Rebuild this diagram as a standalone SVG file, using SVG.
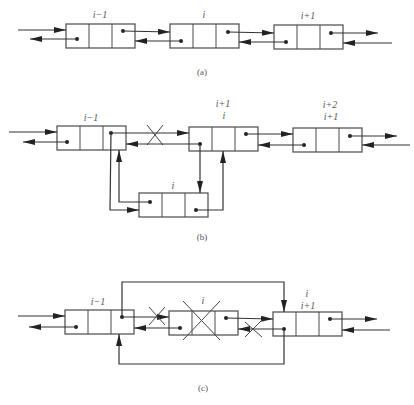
<svg xmlns="http://www.w3.org/2000/svg" width="414" height="405" viewBox="0 0 414 405">
<style>
.box{fill:none;stroke:#4a4a4a;stroke-width:1.2}
.cell{stroke:#4a4a4a;stroke-width:1}
.ln{fill:none;stroke:#333;stroke-width:1.2}
.arr{fill:none;stroke:#333;stroke-width:1.2;marker-end:url(#ah)}
.x{stroke:#444;stroke-width:1}
.dot{fill:#222}
.lbl{font-family:"Liberation Serif",serif;font-style:italic;font-size:10px;fill:#555;text-anchor:middle}
.cap{font-family:"Liberation Serif",serif;font-size:9px;fill:#555;text-anchor:middle}
</style>
<defs>
<marker id="ah" viewBox="0 0 12 6" refX="12" refY="3" markerWidth="12" markerHeight="6" markerUnits="userSpaceOnUse" orient="auto">
<path d="M0,0 L12,3 L0,6 z" fill="#222"/>
</marker>
</defs>
<rect width="414" height="405" fill="#fff"/>

<!-- (a) -->
<g id="a1"><rect class="box" x="66" y="24" width="69" height="24"/><line class="cell" x1="89" y1="24" x2="89" y2="48"/><line class="cell" x1="112" y1="24" x2="112" y2="48"/><circle class="dot" cx="77" cy="39" r="2"/><circle class="dot" cx="123" cy="31" r="2"/><text class="lbl" x="100" y="18">i−1</text></g>
<g id="a2"><rect class="box" x="170" y="24" width="69" height="24"/><line class="cell" x1="193" y1="24" x2="193" y2="48"/><line class="cell" x1="216" y1="24" x2="216" y2="48"/><circle class="dot" cx="181" cy="41" r="2"/><circle class="dot" cx="228" cy="32" r="2"/><text class="lbl" x="204" y="18">i</text></g>
<g id="a3"><rect class="box" x="274" y="25" width="69" height="24"/><line class="cell" x1="297" y1="25" x2="297" y2="49"/><line class="cell" x1="320" y1="25" x2="320" y2="49"/><circle class="dot" cx="286" cy="42" r="2"/><circle class="dot" cx="331" cy="33" r="2"/><text class="lbl" x="308" y="19">i+1</text></g>
<text class="cap" x="202" y="75">(a)</text>

<!-- (b) -->
<g id="b1"><rect class="box" x="57" y="126" width="69" height="24"/><line class="cell" x1="80" y1="126" x2="80" y2="150"/><line class="cell" x1="103" y1="126" x2="103" y2="150"/><circle class="dot" cx="67" cy="142" r="2"/><circle class="dot" cx="111" cy="133" r="2"/><text class="lbl" x="91" y="121">i−1</text></g>
<g id="b2"><rect class="box" x="189" y="127" width="69" height="24"/><line class="cell" x1="212" y1="127" x2="212" y2="151"/><line class="cell" x1="235" y1="127" x2="235" y2="151"/><circle class="dot" cx="200" cy="144" r="2"/><circle class="dot" cx="246" cy="134" r="2"/><text class="lbl" x="223" y="107">i+1</text><text class="lbl" x="224" y="119">i</text></g>
<g id="b3"><rect class="box" x="293" y="128" width="69" height="24"/><line class="cell" x1="316" y1="128" x2="316" y2="152"/><line class="cell" x1="339" y1="128" x2="339" y2="152"/><circle class="dot" cx="304" cy="145" r="2"/><circle class="dot" cx="350" cy="136" r="2"/><text class="lbl" x="330" y="108">i+2</text><text class="lbl" x="331" y="120">i+1</text></g>
<g id="b4"><rect class="box" x="139" y="193" width="69" height="24"/><line class="cell" x1="162" y1="193" x2="162" y2="217"/><line class="cell" x1="185" y1="193" x2="185" y2="217"/><circle class="dot" cx="150" cy="202" r="2"/><circle class="dot" cx="196" cy="210" r="2"/><text class="lbl" x="173" y="189">i</text></g>
<text class="cap" x="202" y="240">(b)</text>

<!-- (c) -->
<g id="c1"><rect class="box" x="65" y="310" width="69" height="24"/><line class="cell" x1="88" y1="310" x2="88" y2="334"/><line class="cell" x1="111" y1="310" x2="111" y2="334"/><circle class="dot" cx="76" cy="327" r="2"/><circle class="dot" cx="122" cy="317" r="2"/><text class="lbl" x="98" y="305">i−1</text></g>
<g id="c2"><rect class="box" x="169" y="311" width="69" height="24"/><line class="cell" x1="192" y1="311" x2="192" y2="335"/><line class="cell" x1="215" y1="311" x2="215" y2="335"/><circle class="dot" cx="180" cy="328" r="2"/><circle class="dot" cx="226" cy="318" r="2"/><text class="lbl" x="203" y="304">i</text><line class="x" x1="183" y1="301" x2="220" y2="340"/><line class="x" x1="220" y1="301" x2="183" y2="340"/></g>
<g id="c3"><rect class="box" x="273" y="312" width="69" height="24"/><line class="cell" x1="296" y1="312" x2="296" y2="336"/><line class="cell" x1="319" y1="312" x2="319" y2="336"/><circle class="dot" cx="284" cy="329" r="2"/><circle class="dot" cx="330" cy="319" r="2"/><text class="lbl" x="307" y="297">i</text><text class="lbl" x="308" y="309">i+1</text></g>
<text class="cap" x="203" y="391">(c)</text>

<g id="connectors">
<!-- a -->
<line class="arr" x1="18" y1="30" x2="66" y2="30"/>
<line class="arr" x1="77" y1="39" x2="30" y2="39"/>
<line class="arr" x1="123" y1="31" x2="170" y2="32"/>
<line class="arr" x1="181" y1="41" x2="135" y2="41"/>
<line class="arr" x1="228" y1="32" x2="274" y2="33"/>
<line class="arr" x1="286" y1="42" x2="239" y2="42"/>
<line class="arr" x1="331" y1="33" x2="378" y2="33"/>
<line class="arr" x1="392" y1="43" x2="343" y2="43"/>
<!-- b -->
<line class="arr" x1="9" y1="132" x2="57" y2="132"/>
<line class="arr" x1="67" y1="142" x2="23" y2="142"/>
<line class="arr" x1="111" y1="133" x2="189" y2="133"/>
<line class="x" x1="147" y1="125" x2="163" y2="145"/>
<line class="x" x1="163" y1="125" x2="147" y2="145"/>
<line class="arr" x1="200" y1="144" x2="126" y2="144"/>
<line class="arr" x1="200" y1="144" x2="200" y2="193"/>
<line class="arr" x1="246" y1="134" x2="293" y2="134"/>
<line class="arr" x1="304" y1="145" x2="258" y2="145"/>
<line class="arr" x1="350" y1="136" x2="397" y2="136"/>
<line class="arr" x1="410" y1="145" x2="362" y2="145"/>
<polyline class="arr" points="111,133 110,210 139,210"/>
<polyline class="arr" points="150,202 119,202 119,150"/>
<polyline class="arr" points="196,210 223,210 223,151"/>
<!-- c -->
<line class="arr" x1="18" y1="316" x2="65" y2="316"/>
<line class="arr" x1="76" y1="327" x2="29" y2="327"/>
<line class="arr" x1="122" y1="317" x2="169" y2="317"/>
<line class="x" x1="149" y1="307" x2="165" y2="325"/>
<line class="x" x1="165" y1="307" x2="149" y2="325"/>
<polyline class="arr" points="122,317 122,282 284,282 284,312"/>
<line class="arr" x1="180" y1="328" x2="134" y2="328"/>
<line class="arr" x1="226" y1="318" x2="273" y2="319"/>
<line class="arr" x1="284" y1="329" x2="238" y2="329"/>
<line class="x" x1="245" y1="322" x2="262" y2="337"/>
<line class="x" x1="262" y1="320" x2="245" y2="337"/>
<polyline class="arr" points="284,329 284,364 119,364 119,334"/>
<line class="arr" x1="330" y1="319" x2="377" y2="319"/>
<line class="arr" x1="390" y1="330" x2="342" y2="330"/>
</g>
</svg>
